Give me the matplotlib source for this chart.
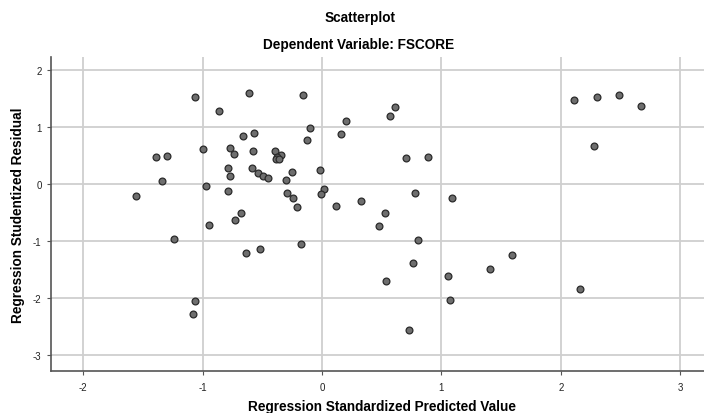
import matplotlib
matplotlib.use("Agg")
import matplotlib.pyplot as plt
from matplotlib.ticker import FixedLocator, FixedFormatter

plt.rcParams['font.family'] = ['Liberation Sans', 'DejaVu Sans']

pred = [-1.065, -0.608, -0.865, -0.664, -0.566, -0.993, -1.387, -1.30, -0.768, -0.734,
        -0.58, -0.39, -0.345, -0.375, -0.385, -0.36, -0.784, -0.768, -0.59, -0.54,
        -0.497, -0.455, -1.342, -0.968, -0.786, -1.556, -0.68, -0.948, -0.726, -1.242,
        -0.633, -0.516, -1.06, -1.08, -0.162, 0.613, 0.571, 0.203, -0.098, 0.162,
        -0.128, 0.70, 0.884, -0.249, -0.299, -0.02, 0.017, -0.011, -0.29, -0.243,
        -0.212, 0.117, 0.323, 0.524, 0.775, 1.085, 0.476, 0.80, -0.178, 0.766,
        0.532, 1.054, 1.409, 1.07, 0.73, 2.114, 2.306, 2.485, 2.675, 2.279,
        1.59, 2.162]
resid = [1.53, 1.59, 1.29, 0.84, 0.905, 0.61, 0.48, 0.49, 0.64, 0.525,
         0.58, 0.59, 0.51, 0.48, 0.44, 0.45, 0.29, 0.15, 0.275, 0.2,
         0.14, 0.10, 0.06, -0.03, -0.12, -0.2, -0.5, -0.72, -0.626, -0.965,
         -1.2, -1.135, -2.04, -2.27, 1.57, 1.356, 1.198, 1.105, 0.98, 0.877,
         0.77, 0.467, 0.485, 0.21, 0.08, 0.245, -0.077, -0.165, -0.147, -0.246,
         -0.40, -0.38, -0.293, -0.498, -0.147, -0.246, -0.726, -0.98, -1.05, -1.386,
         -1.70, -1.61, -1.486, -2.03, -2.556, 1.47, 1.52, 1.567, 1.374, 0.677,
         -1.25, -1.84]

x_ticks = [-2, -1, 0, 1, 2, 3]
y_ticks = [-3, -2, -1, 0, 1, 2]
x_labels = ["-2", "-1", "0", "1", "2", "3"]
y_labels = ["-3", "-2", "-1", "0", "1", "2"]

fig = plt.figure(figsize=(7.04, 4.14), dpi=100)
ax = fig.add_axes([0.072, 0.1007, 0.928, 0.7593])
ax.scatter(pred, resid, s=24, facecolor='#6e6e6e', edgecolor='#2a2a2a', linewidth=0.9, zorder=3)

ax.set_xlim(-2.273, 3.2)
ax.set_ylim(-3.28, 2.23)
ax.xaxis.set_major_locator(FixedLocator(x_ticks))
ax.xaxis.set_major_formatter(FixedFormatter(x_labels))
ax.yaxis.set_major_locator(FixedLocator(y_ticks))
ax.yaxis.set_major_formatter(FixedFormatter(y_labels))
ax.grid(True, color='#cfcfcf', linewidth=1.3, zorder=0)
ax.set_axisbelow(True)
for s in ['top', 'right']:
    ax.spines[s].set_visible(False)
for s in ['left', 'bottom']:
    ax.spines[s].set_color('#555555')
    ax.spines[s].set_linewidth(1.2)
ax.tick_params(axis='both', labelsize=7, length=3, color='#555555', labelcolor='#222222')
ax.tick_params(axis='x', pad=5)

ax.set_xlabel("Regression Standardized Predicted Value", fontsize=9.8, fontweight='bold', va='center')
ax.xaxis.set_label_coords(0.507, -0.109)
ax.set_ylabel("Regression Studentized Residual", fontsize=9.8, fontweight='bold', va='center')
ax.yaxis.set_label_coords(-0.05, 0.5)

fig.text(360/704, 1 - 18/414, "Scatterplot", ha='center', va='center', fontsize=9.8, fontweight='bold')
fig.text(359/704, 1 - 45/414, "Dependent Variable: FSCORE", ha='center', va='center', fontsize=9.8, fontweight='bold')

fig.savefig("out.png", dpi=100)
